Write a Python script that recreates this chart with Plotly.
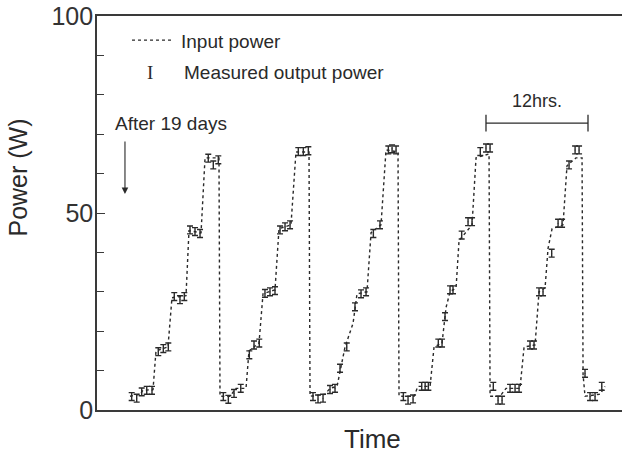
import plotly.graph_objects as go

# ---- data (time in hours, power in W) ----
input_time = [3.88, 5.06, 5.41, 6.59, 6.94, 8.35, 8.82, 10.47, 10.82, 12.24, 12.71, 14.35, 14.47,
              15.65, 16.35, 17.53, 17.88, 19.06, 19.53, 20.94, 21.41, 22.82, 23.41, 24.94, 25.06,
              26.82, 27.41, 28.24, 28.71, 29.18, 30.12, 30.59, 31.76, 32.24, 33.41, 34.0, 35.41, 35.53,
              37.29, 37.76, 39.18, 39.65, 40.59, 41.06, 41.53, 42.24, 42.59, 44.12, 44.59, 46.12, 46.24,
              47.41, 48.12, 49.76, 50.24, 51.53, 52.0, 52.71, 53.06, 53.53, 54.82, 55.29, 56.35, 57.06,
              57.18, 57.41, 59.18, 59.76]
input_power = [3.5, 4.0, 5.0, 5.2, 15.0, 16.0, 28.5, 29.0, 45.5, 45.0, 64.0, 64.0, 3.5,
               3.5, 5.5, 5.5, 15.0, 17.0, 29.5, 30.5, 46.0, 47.0, 65.5, 65.5, 3.5,
               4.0, 5.5, 6.0, 11.0, 16.0, 22.0, 29.5, 30.0, 45.0, 47.0, 66.0, 65.5, 3.5,
               3.5, 6.0, 6.0, 16.0, 17.0, 26.0, 30.0, 31.0, 43.0, 47.0, 64.0, 65.0, 3.5,
               3.5, 5.5, 5.5, 16.0, 16.5, 30.0, 31.0, 41.0, 46.0, 47.0, 62.0, 64.0, 64.0,
               9.0, 3.5, 4.0, 6.0]

meas_time = [4.08, 4.67, 5.26, 5.85, 6.47, 7.21, 7.80, 8.39, 9.09, 9.76, 10.27, 10.94, 11.53, 12.12,
             13.09, 13.68, 14.27,
             14.86, 15.45, 16.12, 16.91, 17.92, 18.47, 19.09, 19.76, 20.35, 20.94, 21.53, 22.12, 22.71,
             23.68, 24.27, 24.86,
             25.41, 26.0, 26.59, 27.41, 28.0, 28.59, 29.38, 30.35, 31.06, 31.65, 32.51, 33.29,
             34.27, 34.71, 35.18,
             36.04, 36.59, 37.18, 38.2, 38.6, 38.98, 40.15, 40.59, 40.94, 41.53, 41.88, 42.9, 43.65,
             44.12, 45.09, 45.76, 46.24,
             46.62, 47.18, 47.65, 48.59, 49.18, 49.65, 50.94, 51.41, 52.0, 52.47, 53.49, 54.24, 54.71,
             55.53, 56.24, 56.71,
             57.41, 58.0, 58.59, 59.38]
meas_power = [3.4, 3.0, 4.6, 5.0, 5.0, 14.8, 15.6, 16.0, 28.8, 28.0, 28.8, 45.7, 45.3, 44.8,
              63.9, 62.2, 63.5,
              3.4, 2.7, 4.2, 5.5, 14.0, 16.5, 17.0, 29.6, 30.0, 30.3, 45.7, 46.5, 47.0,
              65.6, 65.6, 65.8,
              3.4, 2.8, 3.0, 5.2, 5.5, 10.6, 16.0, 26.2, 29.5, 30.0, 44.8, 47.0,
              66.0, 66.3, 66.0,
              3.4, 2.5, 2.8, 6.0, 6.0, 6.0, 17.0, 17.0, 23.7, 30.5, 30.5, 44.4, 47.8,
              47.8, 65.6, 66.5, 66.5,
              6.0, 2.5, 2.5, 5.5, 5.5, 5.5, 16.5, 16.5, 30.0, 30.0, 39.8, 47.4, 47.4,
              62.2, 66.0, 66.0,
              9.3, 3.4, 3.4, 6.0]
meas_err = 1.0

scale_bar_time = [45.76, 57.76]   # 12 hrs
scale_bar_level = 72.8

y_ticks = [0, 50, 100]
y_tick_text = ["0", "50", "100"]

INK = "#2a2a2a"
FONT = "Liberation Sans, Arial, Helvetica, sans-serif"

fig = go.Figure()

fig.add_trace(go.Scatter(
    x=input_time, y=input_power, mode="lines",
    line=dict(color=INK, width=1.4, dash="3px,3px"),
    hoverinfo="skip", showlegend=False))

fig.add_trace(go.Scatter(
    x=meas_time, y=meas_power, mode="markers",
    marker=dict(size=1, color=INK),
    error_y=dict(type="constant", value=meas_err, thickness=1.4, width=3, color=INK),
    showlegend=False))

# 12 hrs scale bar
fig.add_trace(go.Scatter(
    x=scale_bar_time, y=[scale_bar_level, scale_bar_level], mode="lines+markers",
    line=dict(color=INK, width=1.3),
    marker=dict(symbol="line-ns", size=12, line=dict(width=1.3, color=INK), color=INK),
    hoverinfo="skip", showlegend=False))

fig.add_annotation(x=sum(scale_bar_time) / 2, y=scale_bar_level + 5.7, text="12hrs.",
                   showarrow=False, font=dict(size=18, color=INK, family=FONT),
                   xanchor="center", yanchor="middle")

# arrow "After 19 days"
fig.add_annotation(x=3.29, y=54.8, ax=3.29, ay=68.5, axref="x", ayref="y",
                   text="", showarrow=True, arrowhead=2, arrowsize=1.2,
                   arrowwidth=1.1, arrowcolor=INK)
fig.add_annotation(xref="paper", yref="paper", x=0.03, y=0.728, text="After 19 days",
                   showarrow=False, xanchor="left", yanchor="middle",
                   font=dict(size=19, color=INK, family=FONT))

# legend (drawn manually)
fig.add_shape(type="line", xref="paper", yref="paper", x0=0.0667, x1=0.1429, y0=0.939, y1=0.939,
              line=dict(color=INK, width=1.2, dash="3px,3px"))
fig.add_annotation(xref="paper", yref="paper", x=0.156, y=0.936, text="Input power",
                   showarrow=False, xanchor="left", yanchor="middle",
                   font=dict(size=19, color=INK, family=FONT))
fig.add_annotation(xref="paper", yref="paper", x=0.101, y=0.857, text="I",
                   showarrow=False, xanchor="center", yanchor="middle",
                   font=dict(size=19, color=INK, family="Liberation Serif, serif"))
fig.add_annotation(xref="paper", yref="paper", x=0.162, y=0.857, text="Measured output power",
                   showarrow=False, xanchor="left", yanchor="middle",
                   font=dict(size=19, color=INK, family=FONT))

# axis titles
fig.add_annotation(xref="paper", yref="paper", x=0.524, y=-0.0736, text="Time",
                   showarrow=False, xanchor="center", yanchor="middle",
                   font=dict(size=26, color=INK, family=FONT))
fig.add_annotation(xref="paper", yref="paper", x=-0.1505, y=0.59, text="Power (W)",
                   textangle=-90, showarrow=False, xanchor="center", yanchor="middle",
                   font=dict(size=25, color=INK, family=FONT))

fig.update_layout(
    width=622, height=455,
    margin=dict(l=97, r=0, t=16, b=45),
    paper_bgcolor="white", plot_bgcolor="white",
    font=dict(family=FONT, color=INK),
    xaxis=dict(range=[0, 61.76], showgrid=False, zeroline=False, showticklabels=False,
               ticks="", showline=True, linecolor="#3a3a3a", linewidth=1.6, mirror=True),
    yaxis=dict(range=[0, 100], showgrid=False, zeroline=False,
               tickvals=y_ticks, ticktext=y_tick_text, ticks="inside", ticklen=8,
               tickwidth=1.2, tickcolor="#3a3a3a", ticklabelstandoff=-3,
               tickfont=dict(size=25, color="#333333", family=FONT),
               showline=True, linecolor="#3a3a3a", linewidth=1.6,
               minor=dict(dtick=10, ticks="inside", ticklen=7, tickwidth=1.1, tickcolor="#3a3a3a")),
)

# remove the browser's default 8px body margin so the figure sits at the page origin
fig.write_html("out.html",
               config={"displayModeBar": False},
               post_script="document.body.style.margin='0';document.body.style.overflow='hidden';")
